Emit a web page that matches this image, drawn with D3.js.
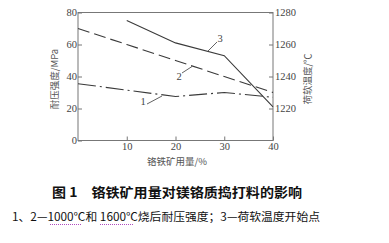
<!DOCTYPE html>
<html><head><meta charset="utf-8">
<script src="https://cdn.jsdelivr.net/npm/d3@7"></script>
<style>body{margin:0;background:#fff;}svg{display:block;}</style>
</head><body>
<script>
const xTicks = [10, 20, 30, 40];
const yLeftTicks = [0, 20, 40, 60, 80];
const yRightTicks = [1220, 1240, 1260, 1280];
const xs1 = [0, 20, 30, 40];
const series1 = [35.5, 27.5, 30, 27];      // 1000℃ strength, MPa
const xs2 = [0, 10, 20, 30, 40];
const series2 = [70, 60, 50, 40, 30];      // 1600℃ strength, MPa
const xs3 = [10, 20, 30, 40];
const series3 = [1275, 1261, 1253, 1221];  // softening temp, ℃
const xLabel = "铬铁矿用量/%";
const yLeftLabel = "耐压强度/MPa";
const yRightLabel = "荷软温度/℃";
const title = "图 1　铬铁矿用量对镁铬质捣打料的影响";
const caption = "1、2—1000℃和 1600℃烧后耐压强度；3—荷软温度开始点";

const W = 389, H = 243;
const m = {l: 78, r: 273, t: 12.5, b: 140.5};
const svg = d3.select("body").append("svg").attr("width", W).attr("height", H);
const x = d3.scaleLinear().domain([0, 40]).range([m.l, m.r]);
const y = d3.scaleLinear().domain([0, 80]).range([m.b, m.t]);
const y2 = d3.scaleLinear().domain([1200, 1280]).range([m.b, m.t]);
const axisCol = "#777", txtCol = "#444", lineCol = "#3a3a3a";
const serif = "'Liberation Serif','DejaVu Serif',serif";
const cjk = "'Noto Sans CJK SC',sans-serif";

// frame
svg.append("rect").attr("x", m.l).attr("y", m.t).attr("width", m.r - m.l).attr("height", m.b - m.t)
  .attr("fill", "none").attr("stroke", axisCol).attr("stroke-width", 1);

function styleAxis(g) {
  g.select(".domain").remove();
  g.selectAll("line").attr("stroke", axisCol);
  g.selectAll("text").attr("fill", txtCol).style("font-family", serif).style("font-size", "10.5px");
}
svg.append("g").attr("transform", `translate(0,${m.b})`)
  .call(d3.axisTop(x).tickValues(xTicks).tickSize(4).tickPadding(-13).tickFormat(d3.format("d")))
  .call(styleAxis);
svg.append("g").attr("transform", `translate(${m.l},0)`)
  .call(d3.axisRight(y).tickValues(yLeftTicks).tickSize(4).tickPadding(-17).tickFormat(d3.format("d")))
  .call(styleAxis)
  .call(g => g.selectAll("text").attr("text-anchor", "end").attr("x", -1));
svg.append("g").attr("transform", `translate(${m.r},0)`)
  .call(d3.axisLeft(y2).tickValues(yRightTicks).tickSize(4).tickPadding(-7).tickFormat(d3.format("d")))
  .call(styleAxis)
  .call(g => g.selectAll("text").attr("text-anchor", "start").attr("x", 2));

// lines
const line = (ys, sc) => d3.line().x((d, i) => x(d)).y((d, i) => sc(ys[i]));
svg.append("path").attr("d", line(series1, y)(xs1)).attr("fill", "none")
  .attr("stroke", lineCol).attr("stroke-width", 1.1).attr("stroke-dasharray", "18,4,2,4");
svg.append("path").attr("d", line(series2, y)(xs2)).attr("fill", "none")
  .attr("stroke", lineCol).attr("stroke-width", 1.1).attr("stroke-dasharray", "12,5");
svg.append("path").attr("d", line(series3, y2)(xs3)).attr("fill", "none")
  .attr("stroke", lineCol).attr("stroke-width", 1.1);

// leader labels
const leaders = [
  {t: "1", lx: 143, ly: 105, x1: 147, y1: 104, x2: 162, y2: 96},
  {t: "2", lx: 179, ly: 80, x1: 182, y1: 73, x2: 192, y2: 66.5},
  {t: "3", lx: 220, ly: 42, x1: 208, y1: 51, x2: 217, y2: 42}
];
leaders.forEach(d => {
  svg.append("line").attr("x1", d.x1).attr("y1", d.y1).attr("x2", d.x2).attr("y2", d.y2)
    .attr("stroke", lineCol).attr("stroke-width", 0.8);
  svg.append("text").attr("x", d.lx).attr("y", d.ly).attr("text-anchor", "middle")
    .attr("fill", txtCol).style("font-family", serif).style("font-size", "10.5px").text(d.t);
});

// axis titles
svg.append("text").attr("x", 177).attr("y", 165).attr("text-anchor", "middle")
  .attr("fill", "#555").style("font-family", cjk).style("font-size", "9.5px").text(xLabel);
svg.append("text").attr("transform", "translate(58,79) rotate(-90)").attr("text-anchor", "middle")
  .attr("fill", "#555").style("font-family", cjk).style("font-size", "9.5px").text(yLeftLabel);
svg.append("text").attr("transform", "translate(311,79) rotate(-90)").attr("text-anchor", "middle")
  .attr("fill", "#555").style("font-family", cjk).style("font-size", "9.5px").text(yRightLabel);

// title and caption
svg.append("text").attr("x", 52).attr("y", 196.5).attr("textLength", 250).attr("lengthAdjust", "spacingAndGlyphs")
  .attr("fill", "#111").style("font-family", cjk).style("font-weight", "bold").style("font-size", "13px").text(title);
svg.append("text").attr("x", 12).attr("y", 221).attr("textLength", 308).attr("lengthAdjust", "spacingAndGlyphs")
  .attr("fill", "#111").style("font-family", cjk).style("font-size", "11.5px").text(caption);
// spell-check style dotted underlines
[[50, 82], [100, 133]].forEach(([a, b]) => {
  svg.append("line").attr("x1", a).attr("x2", b).attr("y1", 224.5).attr("y2", 224.5)
    .attr("stroke", "#b04cc0").attr("stroke-width", 1).attr("stroke-dasharray", "1,1");
});
</script>
</body></html>
